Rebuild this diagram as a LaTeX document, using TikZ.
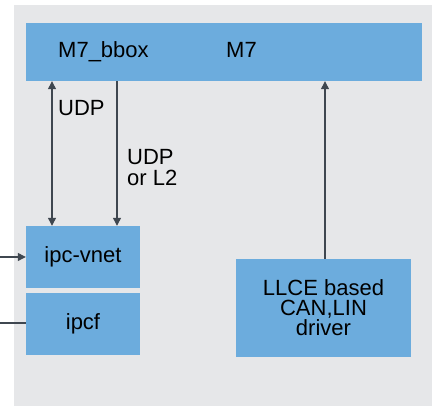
\documentclass[tikz,border=0pt]{standalone}
\usepackage{fontspec}
\setmainfont{Liberation Sans}
\usetikzlibrary{arrows.meta}
\definecolor{boxblue}{HTML}{6CACDD}
\definecolor{bggrey}{HTML}{E6E7E9}
\definecolor{arrgrey}{HTML}{3F4750}
\begin{document}
\begin{tikzpicture}[x=1pt,y=-1pt,
  box/.style={fill=boxblue,draw=none,inner sep=0pt,align=center,font=\fontsize{22}{20}\selectfont},
  lbl/.style={inner sep=0pt,font=\fontsize{22}{21}\selectfont,align=left},
  conn/.style={draw=arrgrey,line width=1.2pt},
  tip/.style={-{Triangle[width=8pt,length=8pt]}}]
\useasboundingbox (0,0) rectangle (432,406);
\fill[bggrey] (14,5) rectangle (432,406);
\node[box,minimum width=396,minimum height=58] (m7) at (224,52) {};
\node[lbl,anchor=base west] (m7bbox) at (58,58) {M7\_bbox};
\node[lbl,anchor=base west] (m7txt) at (226,58) {M7};
\node[box,minimum width=114,minimum height=62] (vnet) at (83,257) {ipc-vnet};
\node[box,minimum width=114,minimum height=62] (ipcf) at (83,324) {ipcf};
\node[box,minimum width=175,minimum height=98] (llce) at (323.5,308) {LLCE based\\CAN,LIN\\driver};
\node[lbl,anchor=west] (udp1) at (58,108) {UDP};
\node[lbl,anchor=west] (udp2) at (127,168) {UDP\\or L2};
\coordinate (xa) at (52,0);
\coordinate (xb) at (117,0);
\coordinate (xc) at (325,0);
\coordinate (in1) at (0,257);
\coordinate (in2) at (0,323);
\draw[conn,{Triangle[width=8pt,length=8pt]}-{Triangle[width=8pt,length=8pt]}] (xa |- m7.south) -- (xa |- vnet.north);
\draw[conn,tip] (xb |- m7.south) -- (xb |- vnet.north);
\draw[conn,tip] (xc |- llce.north) -- (xc |- m7.south);
\draw[conn,tip] (in1) -- (vnet.west);
\draw[conn] (in2) -- (in2 -| ipcf.west);
\end{tikzpicture}
\end{document}
